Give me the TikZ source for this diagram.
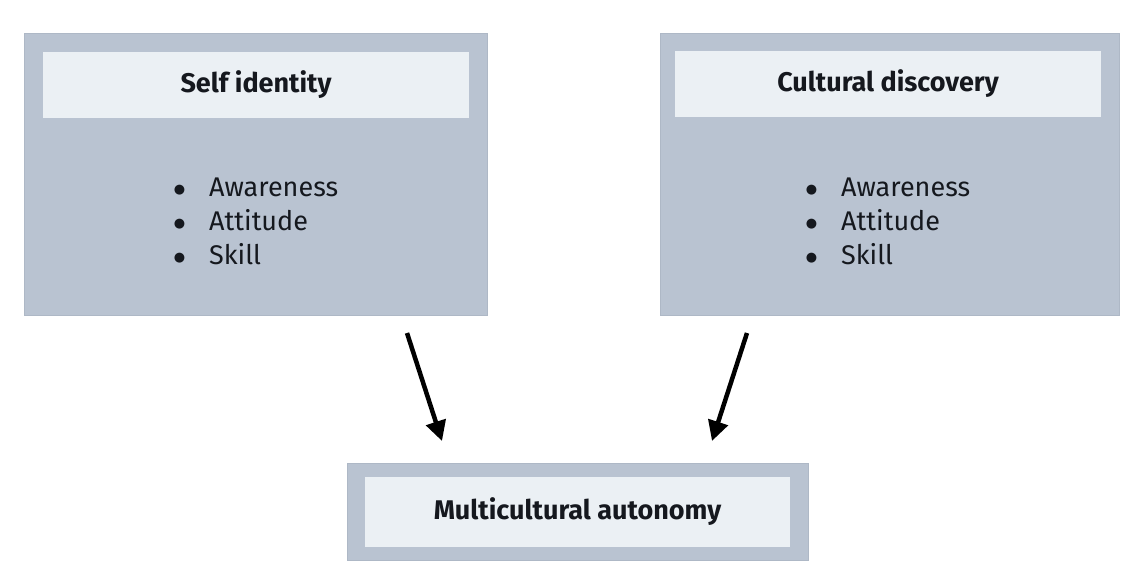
\documentclass[tikz,border=0pt]{standalone}
\usepackage{fontspec}
\setmainfont{Fira Sans}
\newfontfamily\dejavu{DejaVu Sans}
\usetikzlibrary{arrows.meta}
\definecolor{outerbox}{HTML}{B9C3D1}
\definecolor{outerline}{HTML}{AEB8C6}
\definecolor{headbox}{HTML}{EBF0F4}
\definecolor{ink}{HTML}{15181E}
\tikzset{
  panel/.style={draw=outerline, line width=1pt, fill=outerbox, inner sep=0pt},
  header/.style={fill=headbox, inner sep=0pt, text=ink, font=\fontsize{27}{30}\selectfont\bfseries},
  items/.style={align=left, inner sep=0pt, text=ink, font=\fontsize{27}{34}\selectfont},
  flow/.style={line width=4.5pt, -{Triangle[length=20pt,width=20pt]}}
}
\newcommand{\bul}{{\dejavu\fontsize{13}{13}\selectfont ●}}
\newcommand{\itemlist}{%
  \begin{tabular}{@{}l@{\hspace{24pt}}l@{}}
  \raisebox{3pt}{\bul} & Awareness\\
  \raisebox{3pt}{\bul} & Attitude\\
  \raisebox{3pt}{\bul} & Skill
  \end{tabular}}
\begin{document}
\begin{tikzpicture}[x=1pt,y=-1pt]
\useasboundingbox (0,0) rectangle (1131,579);
\fill[white] (0,0) rectangle (1131,579);
% left panel
\node[panel, minimum width=463pt, minimum height=282pt] (left) at (255.5,174) {};
\node[header, minimum width=426pt, minimum height=66pt] (lefthead) at (256,85) {Self identity};
\node[items] (leftlist) at (256,224) {\itemlist};
% right panel
\node[panel, minimum width=459pt, minimum height=282pt] (right) at (889.5,174) {};
\node[header, minimum width=426pt, minimum height=66pt] (righthead) at (888,84) {Cultural discovery};
\node[items] (rightlist) at (888,224) {\itemlist};
% bottom panel
\node[panel, minimum width=461pt, minimum height=97pt] (bottom) at (577.5,511.5) {};
\node[header, minimum width=425pt, minimum height=70pt] (bottomhead) at (577.5,512) {Multicultural autonomy};
% arrows
\coordinate (la) at (407,333);
\coordinate (lb) at (442,441);
\coordinate (ra) at (747,333);
\coordinate (rb) at (712,441);
\draw[flow] (la) -- (lb);
\draw[flow] (ra) -- (rb);
\end{tikzpicture}
\end{document}
